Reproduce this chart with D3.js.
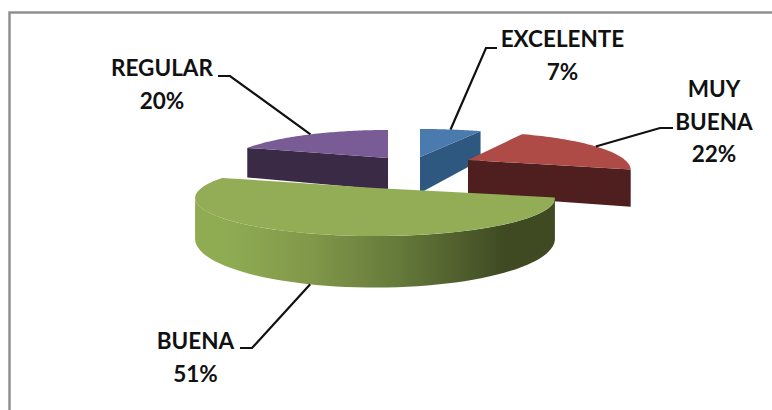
<!DOCTYPE html>
<html>
<head>
<meta charset="utf-8">
<script src="https://cdn.jsdelivr.net/npm/d3@7/dist/d3.min.js"></script>
<style>
  html, body { margin: 0; padding: 0; background: #fff; overflow: hidden; }
  text { font-family: Lato, "Open Sans", sans-serif; font-weight: 700; font-size: 22.5px; fill: #111; text-anchor: middle; }
</style>
</head>
<body>
<svg id="chart" width="772" height="410"></svg>
<script>
// Survey shares, clockwise from twelve o'clock
const categories = ["EXCELENTE", "MUY BUENA", "BUENA", "REGULAR"];
const percents = [7, 22, 51, 20];

// Label wrapping and placement
const labelLines = [["EXCELENTE"], ["MUY", "BUENA"], ["BUENA"], ["REGULAR"]];
const labelCentres = [[562.5, 47], [714, 97], [195.5, 349], [162, 76]];
const elbows = [[[486, 48], [497, 48]], [[660, 128], [673, 128]], [[252, 348], [240, 348]], [[230, 76], [218, 76]]];

// Exploded slice apexes, radii and extrusion depths on the page
const apexes = [[420, 157], [468, 160], [375, 188], [388, 158]];
const radii = [176, 157, 173.6, 160];
const depths = [36, 35, 38, 32];

// Slice colours: top face, cut face
const topColours = ["#4a7aae", "#ae4b47", "#92ad55", "#795b96"];
const sideColours = ["#2f5880", "#4f1f1f", "#3f4a22", "#3a2a45"];

const LINE_HEIGHT = 32.5;
const TILT = 35.4;       // vertical extent of the unit circle
const PERSPECTIVE = 0.263;

const svg = d3.select("#chart");

// Frame of the chart area
svg.append("rect").attr("x", 9.5).attr("y", 12.5).attr("width", 800).attr("height", 450)
  .attr("fill", "#fff").attr("stroke", "#8c8c8c").attr("stroke-width", 2.4);

const arcs = d3.pie().sort(null).value(d => d)(percents);

// Project an angle on the rim (or the apex, with rim = 0) to the page
function project(i, angle, rim, lower) {
  const back = rim * Math.cos(angle);
  const s = 1 / (1 + PERSPECTIVE * back);
  return [
    apexes[i][0] + radii[i] * rim * Math.sin(angle) * s,
    apexes[i][1] - TILT * back * s + (lower ? depths[i] * s : 0)
  ];
}

const path = d3.line();

function rimPoints(i, a0, a1, lower) {
  return d3.range(0, 61).map(k => project(i, a0 + (a1 - a0) * k / 60, 1, lower));
}

const defs = svg.append("defs");
const wallGrad = defs.append("linearGradient").attr("id", "wall")
  .attr("gradientUnits", "userSpaceOnUse").attr("x1", 225).attr("x2", 505).attr("y1", 0).attr("y2", 0);
wallGrad.append("stop").attr("offset", 0).attr("stop-color", "#8fac53");
wallGrad.append("stop").attr("offset", 0.3).attr("stop-color", "#82984a");
wallGrad.append("stop").attr("offset", 0.625).attr("stop-color", "#65793a");
wallGrad.append("stop").attr("offset", 1).attr("stop-color", sideColours[2]);

// Angle at which the projected rim reaches its left extreme
const silhouette = 1.5 * Math.PI - Math.asin(PERSPECTIVE);

// Back slices first, the large front slice last
[3, 0, 1, 2].forEach(i => {
  const d = arcs[i];
  const g = svg.append("g");
  const a0 = d.startAngle, a1 = d.endAngle;

  if (i === 2) {
    // Curved outer wall, visible from the right corner round to the left silhouette
    const a = rimPoints(i, a0, silhouette, false);
    const b = rimPoints(i, a0, silhouette, true).reverse();
    g.append("path").attr("d", path(a.concat(b)) + "Z").attr("fill", "url(#wall)");
  } else {
    // Flat cut face: the end edge on the right-hand slices, the start edge on the left one
    const edge = i === 3 ? a0 : a1;
    const apexTop = project(i, 0, 0, false), apexLow = project(i, 0, 0, true);
    const rimTop = project(i, edge, 1, false), rimLow = project(i, edge, 1, true);
    g.append("path").attr("d", path([apexTop, rimTop, rimLow, apexLow]) + "Z").attr("fill", sideColours[i]);
  }

  const top = [project(i, 0, 0, false)].concat(rimPoints(i, a0, a1, false));
  g.append("path").attr("d", path(top) + "Z").attr("fill", topColours[i]);
});

// Leader lines run from the rim at each slice's mid angle to the label
arcs.forEach((d, i) => {
  const mid = (d.startAngle + d.endAngle) / 2;
  const anchor = project(i, mid, 1, i === 2);
  svg.append("path")
    .attr("d", path([anchor, elbows[i][0], elbows[i][1]]))
    .attr("fill", "none").attr("stroke", "#111").attr("stroke-width", 2.2);
});

// Labels: category on one or two lines, share below
categories.forEach((c, i) => {
  const lines = labelLines[i].concat(percents[i] + "%");
  const t = svg.append("text").attr("aria-label", c);
  lines.forEach((l, k) => {
    t.append("tspan").attr("x", labelCentres[i][0]).attr("y", labelCentres[i][1] + k * LINE_HEIGHT).text(l);
  });
});
</script>
</body>
</html>
